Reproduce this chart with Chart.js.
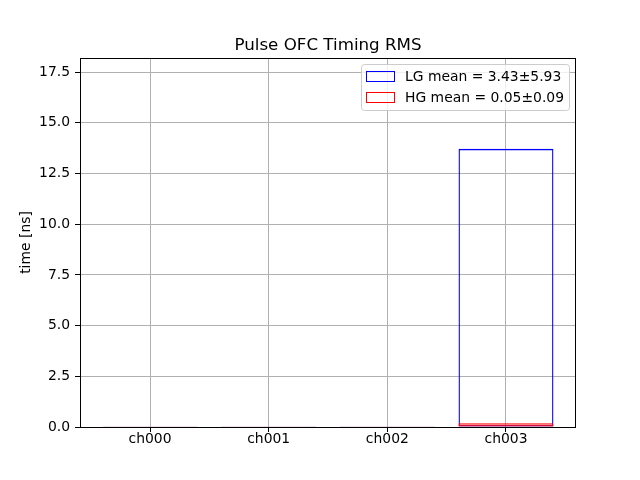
<!DOCTYPE html>
<html>
<head>
<meta charset="utf-8">
<script src="https://cdn.jsdelivr.net/npm/chart.js@4"></script>
<style>
  html, body { margin: 0; padding: 0; background: #fff; }
</style>
</head>
<body>
<canvas id="rmsChart" width="640" height="480"></canvas>
<script>
// Pulse OFC timing RMS per channel
const channels = ["ch000", "ch001", "ch002", "ch003"];
const lgRms = [0.01, 0.01, 0.01, 13.72];
const hgRms = [0.01, 0.01, 0.01, 0.19];
const yTicks = [0, 2.5, 5, 7.5, 10, 12.5, 15, 17.5];
const yMax = 18.2;
const chartTitle = "Pulse OFC Timing RMS";
const legendLabels = ["LG mean = 3.43±5.93", "HG mean = 0.05±0.09"];

Chart.defaults.font.family = "'DejaVu Sans', sans-serif";
Chart.defaults.color = "#000";

const toPoints = vals => vals.map((v, i) => ({ x: i, y: v }));

// title centred over the axes, like matplotlib
const axesTitle = {
  id: 'axesTitle',
  afterDraw(chart) {
    const { ctx, chartArea } = chart;
    ctx.save();
    ctx.font = "16.7px 'DejaVu Sans'";
    ctx.fillStyle = '#000';
    ctx.textAlign = 'center';
    ctx.textBaseline = 'alphabetic';
    ctx.fillText(chartTitle, (chartArea.left + chartArea.right) / 2, chartArea.top - 8);
    ctx.restore();
  }
};

// matplotlib style box legend, top right inside the axes
const boxLegend = {
  id: 'boxLegend',
  afterDraw(chart) {
    const { ctx, chartArea } = chart;
    const w = 208, h = 46;
    const x = Math.round(chartArea.right - 7 - w), y = Math.round(chartArea.top + 6);
    ctx.save();
    ctx.beginPath();
    ctx.roundRect(x + 0.5, y + 0.5, w, h, 3);
    ctx.fillStyle = 'rgba(255,255,255,0.8)';
    ctx.fill();
    ctx.strokeStyle = '#cccccc';
    ctx.lineWidth = 1;
    ctx.stroke();
    ctx.font = "13.9px 'DejaVu Sans'";
    ctx.textBaseline = 'middle';
    ctx.fillStyle = '#000';
    const colors = ['blue', 'red'];
    legendLabels.forEach((txt, i) => {
      const ry = y + 7 + i * 21;
      ctx.strokeStyle = colors[i];
      ctx.strokeRect(x + 5.5, ry + 0.5, 28, 10);
      ctx.fillText(txt, x + 44, ry + 6);
    });
    ctx.restore();
  }
};

// black frame around the axes
const frame = {
  id: 'frame',
  afterDatasetsDraw(chart) {
    const { ctx, chartArea: a } = chart;
    ctx.save();
    ctx.strokeStyle = '#000';
    ctx.lineWidth = 1;
    ctx.strokeRect(Math.round(a.left) + 0.5, Math.round(a.top) + 0.5,
      Math.round(a.right - a.left) - 1, Math.round(a.bottom - a.top));
    ctx.restore();
  }
};

new Chart(document.getElementById('rmsChart'), {
  type: 'bar',
  data: {
    datasets: [
      {
        label: "HG",
        data: toPoints(hgRms),
        borderColor: "red",
        backgroundColor: "rgba(0,0,0,0)",
        borderWidth: 1.3,
        borderSkipped: false,
        order: 0
      },
      {
        label: "LG",
        data: toPoints(lgRms),
        borderColor: "blue",
        backgroundColor: "rgba(0,0,0,0)",
        borderWidth: 1.3,
        borderSkipped: false,
        order: 1
      }
    ]
  },
  options: {
    responsive: false,
    animation: false,
    layout: { padding: { left: 0, right: 64, top: 58, bottom: 0 } },
    datasets: { bar: { grouped: false, barPercentage: 0.8, categoryPercentage: 1 } },
    plugins: {
      legend: { display: false },
      tooltip: { enabled: false },
      title: { display: false }
    },
    scales: {
      x: {
        type: 'linear',
        min: -0.59,
        max: 3.59,
        offset: false,
        afterBuildTicks: axis => { axis.ticks = channels.map((_, i) => ({ value: i })); },
        afterFit: axis => { axis.height = 53; },
        ticks: {
          callback: v => channels[v],
          font: { size: 13.9 },
          padding: -1,
          maxRotation: 0
        },
        grid: { color: '#b0b0b0', tickColor: '#000', tickLength: 5, offset: false },
        border: { display: false }
      },
      y: {
        min: 0,
        max: yMax,
        afterBuildTicks: axis => { axis.ticks = yTicks.map(v => ({ value: v })); },
        afterFit: axis => { axis.width = 80; },
        ticks: {
          callback: v => v.toFixed(1),
          font: { size: 13.9 },
          padding: 5
        },
        grid: { color: '#b0b0b0', tickColor: '#000', tickLength: 5 },
        border: { display: false },
        title: {
          display: true,
          text: "time [ns]",
          font: { size: 13.9 },
          padding: { top: 18, bottom: 0 }
        }
      }
    }
  },
  plugins: [axesTitle, boxLegend, frame]
});
</script>
</body>
</html>
